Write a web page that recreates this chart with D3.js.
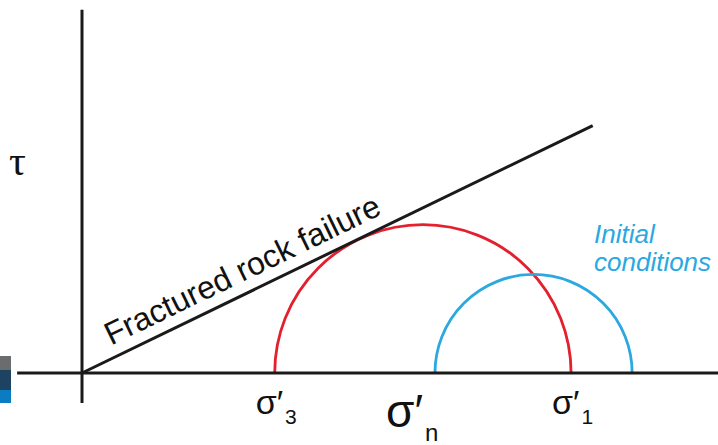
<!DOCTYPE html>
<html>
<head>
<meta charset="utf-8">
<script src="https://cdn.jsdelivr.net/npm/d3@7"></script>
<style>
  html, body { margin: 0; padding: 0; background: #fff; }
  svg { display: block; font-family: 'Liberation Sans', Arial, sans-serif; }
</style>
</head>
<body>
<svg id="chart"></svg>
<script>
(function() {

  // Mohr circles (effective normal stress, arbitrary units)
  const circleNames = ['Failure state', 'Initial conditions'];
  const sigma3Values = [30.3, 55.5];
  const sigma1Values = [76.9, 86.5];
  const circleColors = ['#e4202e', '#2aa8df'];

  // failure envelope end points [sigma'n, tau]
  const failureLine = [[0, 0], [80.3, 38.9]];

  // axis extents
  const xAxisExtent = [-10.2, 100];
  const yAxisExtent = [-4.7, 57.1];

  const width = 718;
  const height = 445;
  const origin = { x: 82, y: 373 };
  const pxPerUnit = 6.36;

  const svg = d3.select('#chart')
    .attr('width', width)
    .attr('height', height);

  const x = d3.scaleLinear().domain([0, 100]).range([origin.x, origin.x + 100 * pxPerUnit]);
  const y = d3.scaleLinear().domain([0, 50]).range([origin.y, origin.y - 50 * pxPerUnit]);

  // little coloured tabs at left edge
  const tabs = [
    { y0: 356, y1: 370, c: '#6b6c6e' },
    { y0: 370, y1: 390, c: '#1d4262' },
    { y0: 390, y1: 403, c: '#0b7bc2' }
  ];
  svg.selectAll('rect.tab')
    .data(tabs)
    .enter()
    .append('rect')
    .attr('class', 'tab')
    .attr('x', 0)
    .attr('width', 11)
    .attr('y', function(d) { return d.y0; })
    .attr('height', function(d) { return d.y1 - d.y0; })
    .attr('fill', function(d) { return d.c; });

  // circles (upper halves)
  const circles = svg.append('g').attr('class', 'circles');
  circleNames.forEach(function(name, i) {
    const c = (sigma1Values[i] + sigma3Values[i]) / 2;
    const r = x(sigma1Values[i]) - x(c);
    const p = d3.path();
    p.moveTo(x(sigma3Values[i]), y(0));
    p.arc(x(c), y(0), r, Math.PI, 2 * Math.PI);
    circles.append('path')
      .attr('d', p.toString())
      .attr('fill', 'none')
      .attr('stroke', circleColors[i])
      .attr('stroke-width', 2.8);
  });

  // axes
  svg.append('line')
    .attr('x1', x(xAxisExtent[0])).attr('x2', x(xAxisExtent[1]))
    .attr('y1', y(0)).attr('y2', y(0))
    .attr('stroke', '#1a1a1a').attr('stroke-width', 3);
  svg.append('line')
    .attr('x1', x(0)).attr('x2', x(0))
    .attr('y1', y(yAxisExtent[0])).attr('y2', y(yAxisExtent[1]))
    .attr('stroke', '#1a1a1a').attr('stroke-width', 3);

  // failure envelope
  const line = d3.line()
    .x(function(d) { return x(d[0]); })
    .y(function(d) { return y(d[1]); });
  svg.append('path')
    .datum(failureLine)
    .attr('d', line)
    .attr('fill', 'none')
    .attr('stroke', '#1a1a1a')
    .attr('stroke-width', 3);

  const angle = Math.atan2(y(0) - y(failureLine[1][1]), x(failureLine[1][0]) - x(0)) * 180 / Math.PI;
  const along = 38;
  const rad = angle * Math.PI / 180;
  const offset = 12;
  const tx = x(0) + along * Math.cos(rad) - offset * Math.sin(rad);
  const ty = y(0) - along * Math.sin(rad) - offset * Math.cos(rad);
  svg.append('text')
    .attr('transform', 'translate(' + tx + ',' + ty + ') rotate(' + (-angle) + ')')
    .style('font-size', '32px')
    .attr('fill', '#111')
    .text('Fractured rock failure');

  // labels
  svg.append('text')
    .attr('x', 594).attr('y', 243)
    .style('font-size', '26px')
    .style('font-style', 'italic')
    .attr('fill', circleColors[1])
    .text('Initial');
  svg.append('text')
    .attr('x', 594).attr('y', 271)
    .style('font-size', '26px')
    .style('font-style', 'italic')
    .attr('fill', circleColors[1])
    .text('conditions');

  svg.append('text')
    .attr('x', 9).attr('y', 175)
    .style('font-size', '42px')
    .style('font-family', "'Liberation Serif', 'DejaVu Serif', serif")
    .attr('fill', '#111')
    .text('τ');

  function sigmaLabel(px, py, size, sub, subSize) {
    const t = svg.append('text')
      .attr('x', px).attr('y', py)
      .style('font-size', size + 'px')
      .attr('fill', '#111');
    t.append('tspan').text('σ′');
    t.append('tspan')
      .attr('dy', size * 0.3)
      .attr('dx', 2)
      .style('font-size', subSize + 'px')
      .text(sub);
  }
  sigmaLabel(x(sigma3Values[0]) - 19, 414, 34, '3', 21);
  sigmaLabel(x(sigma1Values[0]) - 19, 414, 34, '1', 21);
  sigmaLabel(386, 427, 46, 'n', 24);

})();
</script>
</body>
</html>
